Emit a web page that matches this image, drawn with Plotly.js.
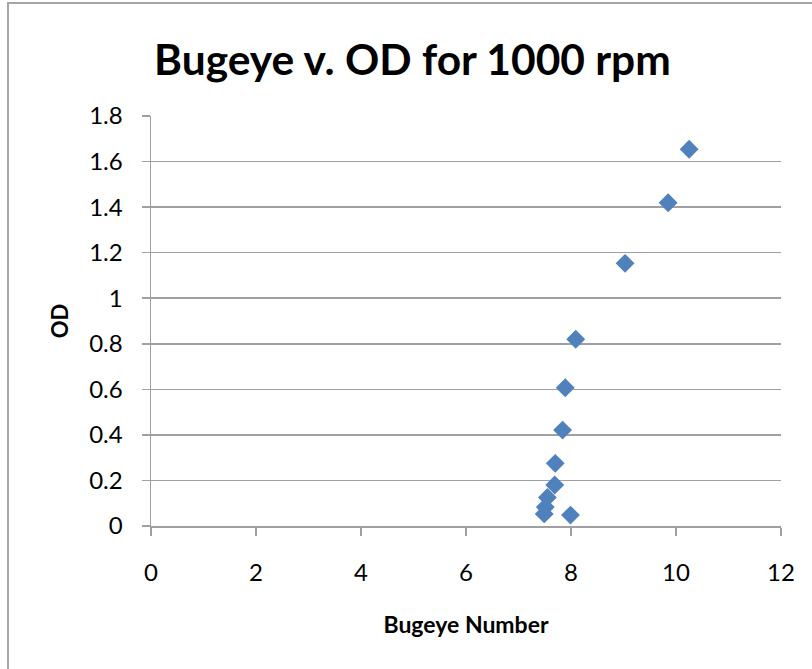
<!DOCTYPE html>
<html>
<head>
<meta charset="utf-8">
<script src="https://cdn.plot.ly/plotly-3.0.1.min.js"></script>
<style>
html,body{margin:0;padding:0;background:#fff;}
#wrap{position:relative;width:812px;height:669px;}
#chart{width:812px;height:669px;}
#frame{position:absolute;left:7px;top:2px;width:820px;height:700px;border-left:2px solid #a6a6a6;border-top:2px solid #a6a6a6;pointer-events:none;}
</style>
</head>
<body>
<div id="wrap"><div id="chart"></div><div id="frame"></div></div>
<script>
const bugeye = [10.25, 9.85, 9.03, 8.09, 7.89, 7.84, 7.70, 7.69, 7.55, 7.51, 7.49, 7.99];
const od     = [1.654, 1.419, 1.153, 0.820, 0.607, 0.421, 0.275, 0.180, 0.125, 0.083, 0.053, 0.048];
const xTicks = [0, 2, 4, 6, 8, 10, 12];
const yTicks = [0, 0.2, 0.4, 0.6, 0.8, 1, 1.2, 1.4, 1.6, 1.8];
const yTickText = ['0', '0.2', '0.4', '0.6', '0.8', '1', '1.2', '1.4', '1.6', '1.8'];

const font = 'Lato, "Open Sans", sans-serif';
const trace = {
  x: bugeye, y: od, type: 'scatter', mode: 'markers',
  marker: {symbol: 'diamond', size: 14.5, color: '#4f81bd', line: {width: 0}},
  hoverinfo: 'x+y'
};
const layout = {
  width: 812, height: 669,
  margin: {l: 151, r: 31, t: 116, b: 143},
  paper_bgcolor: '#fff', plot_bgcolor: '#fff',
  showlegend: false,
  title: {text: '<b>Bugeye v. OD for 1000 rpm</b>', x: 0.508, xref: 'container', y: 0.91, yref: 'container', yanchor: 'middle',
          font: {family: font, size: 42.5, color: '#000'}},
  xaxis: {
    range: [0, 12], tickvals: xTicks, ticktext: xTicks.map(String),
    showgrid: false, zeroline: false, showline: true, linecolor: '#a0a0a0', linewidth: 1.5,
    ticks: 'outside', ticklen: 8, tickcolor: '#a0a0a0', tickwidth: 1.5,
    ticklabelstandoff: 17,
    tickfont: {family: font, size: 24, color: '#000'},
    title: {text: '<b>Bugeye Number</b>', font: {family: font, size: 23, color: '#000'}, standoff: 31}
  },
  yaxis: {
    range: [0, 1.8], tickvals: yTicks, ticktext: yTickText,
    showgrid: true, gridcolor: '#a0a0a0', gridwidth: 1.5,
    zeroline: false, showline: true, linecolor: '#a0a0a0', linewidth: 1.5,
    ticks: 'outside', ticklen: 8, tickcolor: '#a0a0a0', tickwidth: 1.5,
    ticklabelstandoff: 14,
    tickfont: {family: font, size: 24, color: '#000'},
    title: {text: '<b>OD</b>', font: {family: font, size: 22, color: '#000'}, standoff: 14}
  }
};
Plotly.newPlot('chart', [trace], layout, {displayModeBar: false, staticPlot: true});
</script>
</body>
</html>
